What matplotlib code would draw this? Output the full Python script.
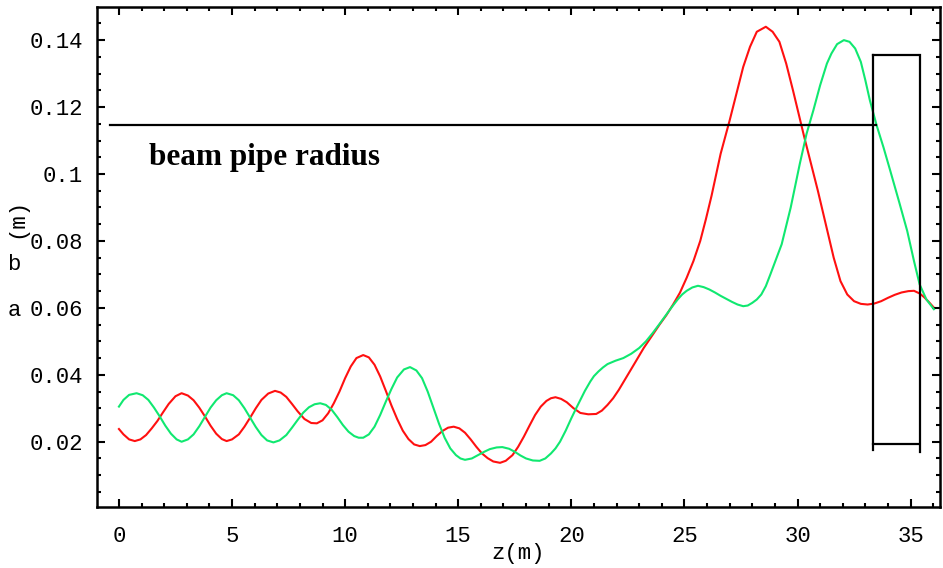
import numpy as np
import matplotlib
matplotlib.use("Agg")
import matplotlib.pyplot as plt
from matplotlib.ticker import MultipleLocator

# red curve (z in m, size in m)
z_red = [0, 0.2, 0.45, 0.7, 0.95, 1.2, 1.45, 1.7, 1.95, 2.2, 2.5, 2.77, 3.05, 3.3, 3.55,
         3.8, 4.05, 4.3, 4.55, 4.76, 5.0, 5.3, 5.55, 5.8, 6.05, 6.3, 6.6, 6.9, 7.15, 7.4,
         7.65, 7.9, 8.2, 8.5, 8.75, 9.0, 9.25, 9.5, 9.75, 10.0, 10.25, 10.5, 10.8, 11.05,
         11.3, 11.55, 11.8, 12.05, 12.3, 12.55, 12.8, 13.05, 13.3, 13.55, 13.8, 14.05,
         14.3, 14.55, 14.8, 15.05, 15.3, 15.55, 15.8, 16.05, 16.3, 16.55, 16.85, 17.1,
         17.4, 17.65, 17.9, 18.15, 18.4, 18.65, 18.9, 19.1, 19.3, 19.55, 19.8, 20.1, 20.4,
         20.75, 21.1, 21.35, 21.6, 21.85, 22.1, 22.5, 22.85, 23.2, 23.55, 23.9, 24.2, 24.5,
         24.8, 25.1, 25.4, 25.7, 25.95, 26.2, 26.4, 26.6, 27.0, 27.3, 27.6, 27.9, 28.2,
         28.6, 28.9, 29.2, 29.5, 29.8, 30.05, 30.3, 30.6, 30.9, 31.25, 31.6, 31.9, 32.2,
         32.5, 32.8, 33.1, 33.4, 33.7, 34.0, 34.3, 34.6, 34.9, 35.15, 35.4, 35.6, 35.8, 36.0]
a_red = [0.0238, 0.0222, 0.0207, 0.0202, 0.0207, 0.0220, 0.0240, 0.0262, 0.0288, 0.0313,
         0.0336, 0.0345, 0.0338, 0.0324, 0.0302, 0.0276, 0.0248, 0.0224, 0.0208, 0.0202,
         0.0207, 0.0222, 0.0245, 0.0272, 0.0300, 0.0325, 0.0344, 0.0352, 0.0347, 0.0334,
         0.0313, 0.0291, 0.0268, 0.0256, 0.0255, 0.0264, 0.0285, 0.0315, 0.0350, 0.0390,
         0.0425, 0.0450, 0.0459, 0.0452, 0.0430, 0.0395, 0.0352, 0.0308, 0.0268, 0.0233,
         0.0208, 0.0192, 0.0187, 0.0190, 0.0200, 0.0217, 0.0232, 0.0242, 0.0245, 0.0240,
         0.0227, 0.0207, 0.0185, 0.0165, 0.0151, 0.0141, 0.0137, 0.0143, 0.0160, 0.0185,
         0.0215, 0.0248, 0.0280, 0.0305, 0.0322, 0.0330, 0.0333, 0.0328, 0.0318, 0.0300,
         0.0286, 0.0282, 0.0283, 0.0293, 0.0310, 0.0330, 0.0355, 0.0400, 0.0440, 0.0480,
         0.0515, 0.0550, 0.0578, 0.0610, 0.0645, 0.0690, 0.0740, 0.0800, 0.0865, 0.0935,
         0.0998, 0.1060, 0.1160, 0.1240, 0.1320, 0.1380, 0.1425, 0.1440, 0.1425, 0.1395,
         0.1330, 0.1250, 0.1180, 0.1110, 0.1030, 0.0950, 0.0850, 0.0750, 0.0680, 0.0640,
         0.0620, 0.0612, 0.0610, 0.0613, 0.0620, 0.0630, 0.0639, 0.0646, 0.0650, 0.0651,
         0.0643, 0.0632, 0.0618, 0.0603]

# green curve
z_grn = [0, 0.2, 0.45, 0.78, 1.05, 1.3, 1.55, 1.8, 2.05, 2.3, 2.55, 2.77, 3.05, 3.3, 3.55,
         3.8, 4.05, 4.3, 4.55, 4.76, 5.05, 5.3, 5.55, 5.8, 6.05, 6.3, 6.55, 6.83, 7.1, 7.4,
         7.65, 7.9, 8.15, 8.4, 8.65, 8.9, 9.15, 9.4, 9.65, 9.9, 10.15, 10.4, 10.6, 10.8,
         11.05, 11.3, 11.55, 11.8, 12.05, 12.3, 12.6, 12.87, 13.15, 13.4, 13.65, 13.9,
         14.15, 14.4, 14.65, 14.9, 15.1, 15.3, 15.6, 15.9, 16.15, 16.4, 16.7, 16.95, 17.25,
         17.5, 17.75, 18.0, 18.3, 18.6, 18.85, 19.1, 19.3, 19.5, 19.75, 20.0, 20.2, 20.4,
         20.6, 20.84, 21.0, 21.2, 21.4, 21.6, 21.95, 22.3, 22.65, 23.0, 23.3, 23.6, 23.9,
         24.2, 24.45, 24.7, 24.9, 25.1, 25.35, 25.6, 25.85, 26.1, 26.35, 26.6, 26.85, 27.1,
         27.35, 27.6, 27.8, 28.0, 28.2, 28.4, 28.6, 28.8, 29.05, 29.3, 29.5, 29.7, 29.9,
         30.1, 30.4, 30.7, 31.0, 31.3, 31.5, 31.75, 32.05, 32.3, 32.55, 32.8, 33.0, 33.2,
         33.5, 33.8, 34.1, 34.5, 34.85, 35.15, 35.4, 35.7, 36.03]
b_grn = [0.0305, 0.0325, 0.0340, 0.0345, 0.0339, 0.0325, 0.0302, 0.0276, 0.0248, 0.0224,
         0.0207, 0.0200, 0.0207, 0.0222, 0.0246, 0.0274, 0.0302, 0.0324, 0.0339, 0.0345,
         0.0339, 0.0324, 0.0300, 0.0272, 0.0244, 0.0220, 0.0204, 0.0198, 0.0204, 0.0220,
         0.0242, 0.0265, 0.0287, 0.0303, 0.0312, 0.0315, 0.0310, 0.0296, 0.0274, 0.0250,
         0.0230, 0.0217, 0.0212, 0.0212, 0.0222, 0.0245, 0.0280, 0.0320, 0.0358, 0.0392,
         0.0416, 0.0423, 0.0413, 0.0390, 0.0350, 0.0302, 0.0254, 0.0212, 0.0180, 0.0160,
         0.0150, 0.0146, 0.0150, 0.0161, 0.0170, 0.0178, 0.0183, 0.0184, 0.0179, 0.0170,
         0.0159, 0.0150, 0.0144, 0.0143, 0.0150, 0.0165, 0.0180, 0.0200, 0.0233, 0.0270,
         0.0298, 0.0325, 0.0352, 0.0380, 0.0396, 0.0410, 0.0422, 0.0432, 0.0442, 0.0450,
         0.0463, 0.0480, 0.0500, 0.0525, 0.0552, 0.0580, 0.0603, 0.0625, 0.0640, 0.0651,
         0.0661, 0.0666, 0.0662, 0.0655, 0.0646, 0.0636, 0.0627, 0.0618, 0.0610, 0.0605,
         0.0607, 0.0615, 0.0625, 0.0640, 0.0665, 0.0700, 0.0745, 0.0790, 0.0845, 0.0900,
         0.0965, 0.1030, 0.1120, 0.1190, 0.1265, 0.1330, 0.1360, 0.1388, 0.1400, 0.1395,
         0.1375, 0.1335, 0.1280, 0.1220, 0.1145, 0.1080, 0.1010, 0.0915, 0.0830, 0.0740,
         0.0670, 0.0625, 0.0596]

pipe_radius = 0.1147
pipe_z = [-0.4, 33.45]
box_z = [33.35, 35.42]
box_y = [0.0192, 0.1357]

mono = "Liberation Mono"

fig = plt.figure(figsize=(9.43, 5.68), dpi=100)
ax = fig.add_axes([97/943, 1-507/568, 843/943, 500/568])

ax.plot(z_red, a_red, color="#ff1010", lw=1.5)
ax.plot(z_grn, b_grn, color="#10e870", lw=1.5)

# beam pipe line and text
ax.plot(pipe_z, [pipe_radius, pipe_radius], color="black", lw=1.6)
ax.text(1.35, 0.1048, "beam pipe radius", fontfamily="Liberation Serif",
        fontweight="bold", fontsize=22.5, va="center", ha="left")

# bracket on the right
ax.plot([box_z[0], box_z[0]], [box_y[1], box_y[0] - 0.0016], color="black", lw=1.6)
ax.plot([box_z[1], box_z[1]], [box_y[1], box_y[0] - 0.0022], color="black", lw=1.6)
ax.plot([box_z[0], box_z[1] - 0.1], [box_y[1], box_y[1]], color="black", lw=1.6)
ax.plot([box_z[0], box_z[1] - 0.1], [box_y[0], box_y[0]], color="black", lw=1.6)

ax.set_xlim(-0.97, 36.3)
ax.set_ylim(0.0005, 0.1499)
ax.set_xticks([0, 5, 10, 15, 20, 25, 30, 35])
ax.set_yticks([0.02, 0.04, 0.06, 0.08, 0.1, 0.12, 0.14])
ax.set_yticklabels(["0.02", "0.04", "0.06", "0.08", "0.1", "0.12", "0.14"])
ax.xaxis.set_minor_locator(MultipleLocator(1))
ax.yaxis.set_minor_locator(MultipleLocator(0.005))
ax.tick_params(which="both", direction="in", top=True, right=True, width=1.5)
ax.tick_params(which="major", length=6)
ax.tick_params(which="minor", length=3)
ax.tick_params(axis="y", pad=10)
ax.tick_params(axis="x", pad=14)
for lab in ax.get_xticklabels() + ax.get_yticklabels():
    lab.set_fontfamily(mono)
    lab.set_fontsize(16)
for s in ax.spines.values():
    s.set_linewidth(1.8)

ax.set_xlabel("z(m)", fontfamily=mono, fontsize=16, labelpad=-3)

# garbled y label from original
fig.text(14/943, 1-310/568, "a", fontfamily=mono, fontsize=16, ha="center", va="center")
fig.text(14/943, 1-265/568, "b", fontfamily=mono, fontsize=16, ha="center", va="center")
fig.text(17/943, 1-218/568, "(m)", fontfamily=mono, fontsize=16, rotation=90,
         ha="center", va="center")

fig.savefig("out.png", dpi=100)
